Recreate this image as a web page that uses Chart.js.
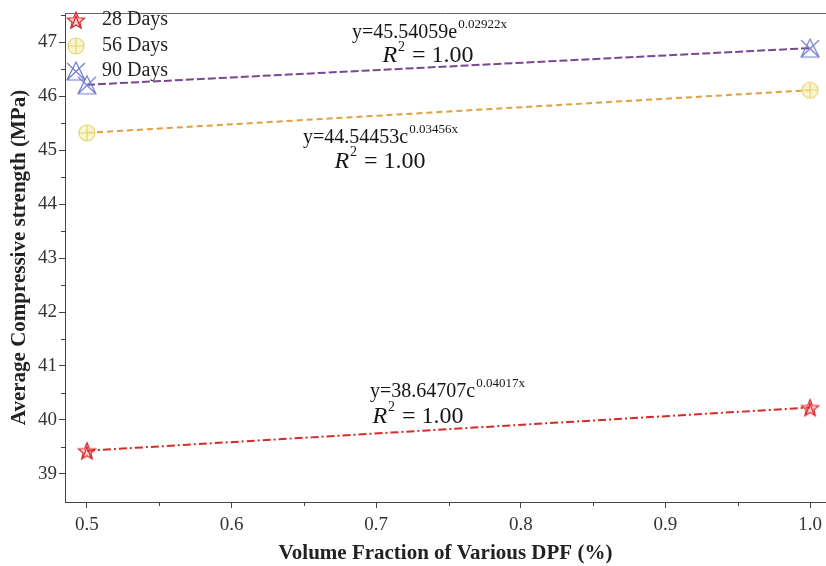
<!DOCTYPE html>
<html>
<head>
<meta charset="utf-8">
<script src="https://cdn.jsdelivr.net/npm/chart.js@4.4.0/dist/chart.umd.min.js"></script>
<style>
html, body { margin: 0; padding: 0; background: #fff; overflow: hidden; }
</style>
</head>
<body>
<canvas id="myChart" width="826" height="566"></canvas>
<script>
// values
var fractions = [0.5, 1.0];
var days28 = [39.43, 40.23];
var days56 = [45.32, 46.11];
var days90 = [46.21, 46.89];
var seriesNames = ['28 Days', '56 Days', '90 Days'];

var xTicks = [0.5, 0.6, 0.7, 0.8, 0.9, 1.0];
var xMinor = [0.55, 0.65, 0.75, 0.85, 0.95];
var yTicks = [39, 40, 41, 42, 43, 44, 45, 46, 47];
var yMinor = [39.5, 40.5, 41.5, 42.5, 43.5, 44.5, 45.5, 46.5, 47.5];

// fit equations (28, 56, 90 days)
var eqTexts = ['y=38.64707c', 'y=44.54453c', 'y=45.54059e'];
var eqPowers = ['0.04017x', '0.03456x', '0.02922x'];
var eqX = [0.6957, 0.6494, 0.6833];
var eqY = [40.52, 45.23, 47.18];
var r2X = [0.7289, 0.7026, 0.7358];
var r2Y = [40.06, 44.79, 46.74];

var serif = "'Liberation Serif', 'Times New Roman', serif";

function makeMarker(kind) {
    var c = document.createElement('canvas');
    c.width = 22; c.height = 22;
    var g = c.getContext('2d');
    g.lineWidth = 1.2;
    if (kind === 'star') {
        g.strokeStyle = '#d8262b';
        g.fillStyle = 'rgba(235,90,90,0.25)';
        g.beginPath();
        for (var i = 0; i < 10; i++) {
            var r = i % 2 === 0 ? 9 : 4;
            var a = -Math.PI / 2 + i * Math.PI / 5;
            var px = 11 + r * Math.cos(a), py = 12 + r * Math.sin(a);
            if (i === 0) g.moveTo(px, py); else g.lineTo(px, py);
        }
        g.closePath();
        g.fill();
        g.stroke();
        g.beginPath();
        g.moveTo(7, 18); g.lineTo(11, 7); g.lineTo(15, 18);
        g.stroke();
    } else if (kind === 'circle') {
        g.strokeStyle = '#e3d66e';
        g.fillStyle = 'rgba(246,241,190,0.7)';
        g.beginPath();
        g.arc(11, 11, 8, 0, Math.PI * 2);
        g.fill();
        g.stroke();
        g.beginPath();
        g.moveTo(3, 11); g.lineTo(19, 11);
        g.moveTo(11, 3); g.lineTo(11, 19);
        g.stroke();
    } else {
        g.strokeStyle = '#6f7dd0';
        g.beginPath();
        g.moveTo(11, 2); g.lineTo(2, 20); g.lineTo(20, 20); g.closePath();
        g.moveTo(2, 3); g.lineTo(20, 20);
        g.moveTo(20, 3); g.lineTo(2, 20);
        g.stroke();
    }
    return c;
}

var markers = [makeMarker('star'), makeMarker('circle'), makeMarker('cross')];
var lineColors = ['#d42a2a', '#e0a040', '#7a4690'];
var lineDashes = [[8, 3, 2, 3], [6, 4], [8, 3]];
var seriesData = [days28, days56, days90];

var datasetsArr = seriesData.map(function(vals, i) {
    return {
        label: seriesNames[i],
        data: fractions.map(function(x, j) { return {x: x, y: vals[j]}; }),
        borderColor: lineColors[i],
        borderWidth: 2,
        borderDash: lineDashes[i],
        pointStyle: markers[i],
        pointRadius: 9,
        fill: false,
        tension: 0
    };
});

var extras = {
    id: 'extras',
    afterDatasetsDraw: function(chart) {
        var ctx = chart.ctx;
        var area = chart.chartArea;
        var xs = chart.scales.x, ys = chart.scales.y;
        ctx.save();
        // top frame line
        ctx.strokeStyle = '#666';
        ctx.lineWidth = 1;
        ctx.beginPath();
        ctx.moveTo(area.left, area.top + 0.5);
        ctx.lineTo(area.right, area.top + 0.5);
        ctx.stroke();
        // minor ticks
        ctx.strokeStyle = '#444';
        ctx.beginPath();
        xMinor.forEach(function(v) {
            var px = Math.round(xs.getPixelForValue(v)) + 0.5;
            ctx.moveTo(px, area.bottom);
            ctx.lineTo(px, area.bottom + 4);
        });
        yMinor.forEach(function(v) {
            var py = Math.round(ys.getPixelForValue(v)) + 0.5;
            if (py < area.top || py > area.bottom) return;
            ctx.moveTo(area.left, py);
            ctx.lineTo(area.left - 4, py);
        });
        ctx.stroke();

        // equations
        ctx.fillStyle = '#151515';
        ctx.textBaseline = 'middle';
        ctx.textAlign = 'left';
        for (var i = 0; i < eqTexts.length; i++) {
            var ex = xs.getPixelForValue(eqX[i]), ey = ys.getPixelForValue(eqY[i]);
            ctx.font = '20px ' + serif;
            ctx.fillText(eqTexts[i], ex, ey);
            var w = ctx.measureText(eqTexts[i]).width;
            ctx.font = '13px ' + serif;
            ctx.fillText(eqPowers[i], ex + w + 1, ey - 8);

            var rx = xs.getPixelForValue(r2X[i]), ry = ys.getPixelForValue(r2Y[i]);
            ctx.font = 'italic 24px ' + serif;
            var wR = ctx.measureText('R').width;
            ctx.font = '14px ' + serif;
            var w2 = ctx.measureText('2').width;
            ctx.font = '24px ' + serif;
            var wRest = ctx.measureText(' = 1.00').width;
            var left = rx - (wR + w2 + 2 + wRest) / 2;
            ctx.font = 'italic 24px ' + serif;
            ctx.fillText('R', left, ry);
            ctx.font = '14px ' + serif;
            ctx.fillText('2', left + wR + 1, ry - 9);
            ctx.font = '24px ' + serif;
            ctx.fillText(' = 1.00', left + wR + w2 + 2, ry);
        }

        // legend inside the plot
        ctx.font = '20px ' + serif;
        ctx.fillStyle = '#222';
        var rows = [20, 46, 71];
        for (var k = 0; k < seriesNames.length; k++) {
            ctx.drawImage(markers[k], area.left + 11 - 11, rows[k] - 11);
            ctx.fillText(seriesNames[k], area.left + 37, rows[k]);
        }
        ctx.restore();
    }
};

var chart = new Chart(document.getElementById('myChart').getContext('2d'), {
    type: 'line',
    data: { datasets: datasetsArr },
    options: {
        responsive: false,
        animation: false,
        devicePixelRatio: 1,
        layout: { autoPadding: false, padding: { top: 13, right: 0, left: 0, bottom: 0 } },
        plugins: { legend: { display: false }, tooltip: { enabled: false } },
        scales: {
            x: {
                type: 'linear',
                min: 0.4848,
                max: 1.011,
                afterBuildTicks: function(scale) {
                    scale.ticks = xTicks.map(function(v) { return {value: v}; });
                },
                afterFit: function(scale) {
                    scale.height = 64;
                    scale.paddingLeft = 0;
                    scale.paddingRight = 0;
                },
                ticks: {
                    color: '#333',
                    padding: 6,
                    font: { family: serif, size: 19 },
                    callback: function(v) { return Number(v).toFixed(1); }
                },
                grid: { drawOnChartArea: false, tickLength: 6, color: '#444' },
                border: { color: '#444', width: 1 },
                title: {
                    display: true,
                    text: 'Volume Fraction of Various DPF (%)',
                    color: '#222',
                    font: { family: serif, size: 21, weight: 'bold' },
                    padding: { top: 0, bottom: 0 }
                }
            },
            y: {
                type: 'linear',
                min: 38.48,
                max: 47.54,
                afterBuildTicks: function(scale) {
                    scale.ticks = yTicks.map(function(v) { return {value: v}; });
                },
                afterFit: function(scale) {
                    scale.width = 65;
                    scale.paddingTop = 0;
                    scale.paddingBottom = 0;
                },
                ticks: {
                    color: '#333',
                    padding: 2,
                    font: { family: serif, size: 19 }
                },
                grid: { drawOnChartArea: false, tickLength: 6, color: '#444' },
                border: { color: '#444', width: 1 },
                title: {
                    display: true,
                    text: 'Average Compressive strength (MPa)',
                    color: '#222',
                    font: { family: serif, size: 21, weight: 'bold' },
                    padding: { top: 7, bottom: 0 }
                }
            }
        }
    },
    plugins: [extras]
});
</script>
</body>
</html>
